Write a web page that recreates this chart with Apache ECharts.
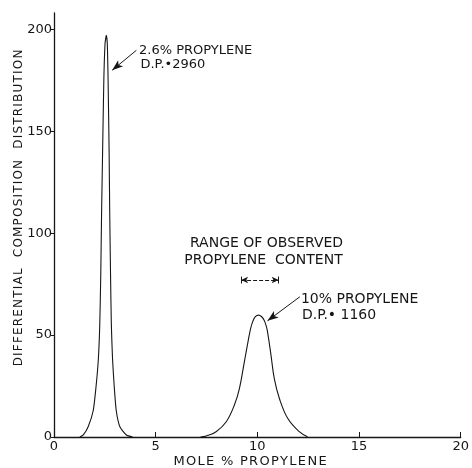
<!DOCTYPE html>
<html>
<head>
<meta charset="utf-8">
<script src="https://cdn.jsdelivr.net/npm/echarts@6/dist/echarts.min.js"></script>
<style>
  html, body { margin: 0; padding: 0; background: #fff; }
  #chart { width: 472px; height: 468px; }
</style>
</head>
<body>
<div id="chart"></div>
<script>
// peak 1: 2.6% propylene, D.P. 2960
const peak1X = [1.27, 1.44, 1.68, 1.93, 2.07, 2.18, 2.25, 2.30, 2.34, 2.39, 2.45, 2.51, 2.57, 2.62, 2.66, 2.71, 2.74, 2.78, 2.82, 2.88, 2.96, 3.06, 3.24, 3.56, 3.87];
const peak1Y = [0, 1, 5, 13, 25, 38, 55, 80, 110, 140, 175, 193, 197, 193, 175, 140, 110, 80, 55, 38, 25, 13, 5, 1, 0];
// peak 2: 10% propylene, D.P. 1160
const peak2X = [7.2, 7.49, 7.97, 8.47, 8.87, 9.12, 9.36, 9.57, 9.67, 9.77, 9.9, 10.06, 10.2, 10.34, 10.43, 10.5, 10.67, 10.83, 11.08, 11.49, 12.06, 12.47];
const peak2Y = [0, 0.5, 2.6, 7.5, 15.7, 23.9, 36.9, 48.4, 53.3, 56.6, 59, 59.8, 59.1, 57.2, 54.6, 51.6, 40.2, 28.8, 19, 9.2, 2.6, 0.1];
const xTicks = [0, 5, 10, 15, 20];
const yTicks = [0, 50, 100, 150, 200];

const ink = '#161616';
const font = 'DejaVu Sans';

const chart = echarts.init(document.getElementById('chart'), null, { renderer: 'canvas' });

function pairs(xs, ys) {
    return xs.map((x, i) => [x, ys[i]]);
}

// lettering in the original is widely spaced
function spaced(s) {
    return s.split('').join('\u200a');
}

const arrowLine = {
    symbol: ['none', 'arrow'],
    symbolSize: [6, 11],
    silent: true,
    label: { show: false },
    lineStyle: { color: ink, width: 1, type: 'solid' }
};

const curveStyle = {
    type: 'line',
    showSymbol: false,
    lineStyle: { color: ink, width: 1.1 }
};

chart.setOption({
    animation: false,
    grid: { left: 54, right: 11, top: 13, bottom: 31 },
    xAxis: {
        type: 'value',
        min: 0,
        max: 20,
        interval: 5,
        axisLine: { lineStyle: { color: ink, width: 1.3 } },
        axisTick: { inside: true, length: 5, lineStyle: { color: ink } },
        axisLabel: { customValues: xTicks, color: ink, fontFamily: font, fontSize: 13, margin: 3 },
        splitLine: { show: false }
    },
    yAxis: {
        type: 'value',
        min: 0,
        max: 208,
        axisLine: { show: true, lineStyle: { color: ink, width: 1.3 } },
        axisTick: { show: true, customValues: yTicks, length: 3, lineStyle: { color: ink } },
        axisLabel: { customValues: yTicks, color: ink, fontFamily: font, fontSize: 13, margin: 2 },
        splitLine: { show: false }
    },
    series: [
        Object.assign({}, curveStyle, {
            smooth: 0.2,
            data: pairs(peak1X, peak1Y),
            markLine: Object.assign({}, arrowLine, {
                data: [[{ coord: [4.05, 189.7] }, { coord: [2.86, 179.9] }]]
            })
        }),
        Object.assign({}, curveStyle, {
            smooth: 0.4,
            data: pairs(peak2X, peak2Y),
            markLine: Object.assign({}, arrowLine, {
                data: [
                    [{ coord: [12.09, 68.8] }, { coord: [10.5, 57] }],
                    [{ coord: [9.2, 77], symbol: 'arrow', symbolSize: [5, 7], lineStyle: { type: [4, 2] } },
                     { coord: [11.05, 77], symbol: 'arrow', symbolSize: [5, 7] }],
                    [{ coord: [9.2, 75.3], symbol: 'none' }, { coord: [9.2, 78.7], symbol: 'none' }],
                    [{ coord: [11.05, 75.3], symbol: 'none' }, { coord: [11.05, 78.7], symbol: 'none' }]
                ]
            })
        })
    ]
});

// annotation texts, anchored in data coordinates
const notes = [
    { text: '2.6% PROPYLENE', at: [4.18, 189.7], align: 'left', size: 13 },
    { text: 'D.P.•2960', at: [4.25, 182.6], align: 'left', size: 13 },
    { text: 'RANGE OF OBSERVED', at: [10.45, 95], align: 'center', size: 14 },
    { text: 'PROPYLENE  CONTENT', at: [10.3, 86.6], align: 'center', size: 14 },
    { text: '10% PROPYLENE', at: [12.14, 67.6], align: 'left', size: 14 },
    { text: 'D.P.• 1160', at: [12.19, 59.8], align: 'left', size: 14 }
];

const graphic = notes.map(n => {
    const p = chart.convertToPixel({ gridIndex: 0 }, n.at);
    return {
        type: 'text',
        x: p[0],
        y: p[1],
        style: {
            text: n.text,
            fill: ink,
            font: n.size + 'px "' + font + '"',
            textAlign: n.align,
            textVerticalAlign: 'middle'
        }
    };
});

// axis titles
graphic.push({
    type: 'text',
    x: 19,
    y: 208,
    rotation: Math.PI / 2,
    style: {
        text: spaced('DIFFERENTIAL  COMPOSITION  DISTRIBUTION'),
        fill: ink,
        font: '12px "' + font + '"',
        textAlign: 'center',
        textVerticalAlign: 'middle'
    }
});
graphic.push({
    type: 'text',
    x: 250,
    y: 462,
    style: {
        text: spaced('MOLE % PROPYLENE'),
        fill: ink,
        font: '13px "' + font + '"',
        textAlign: 'center',
        textVerticalAlign: 'middle'
    }
});

chart.setOption({ graphic: graphic });
</script>
</body>
</html>
